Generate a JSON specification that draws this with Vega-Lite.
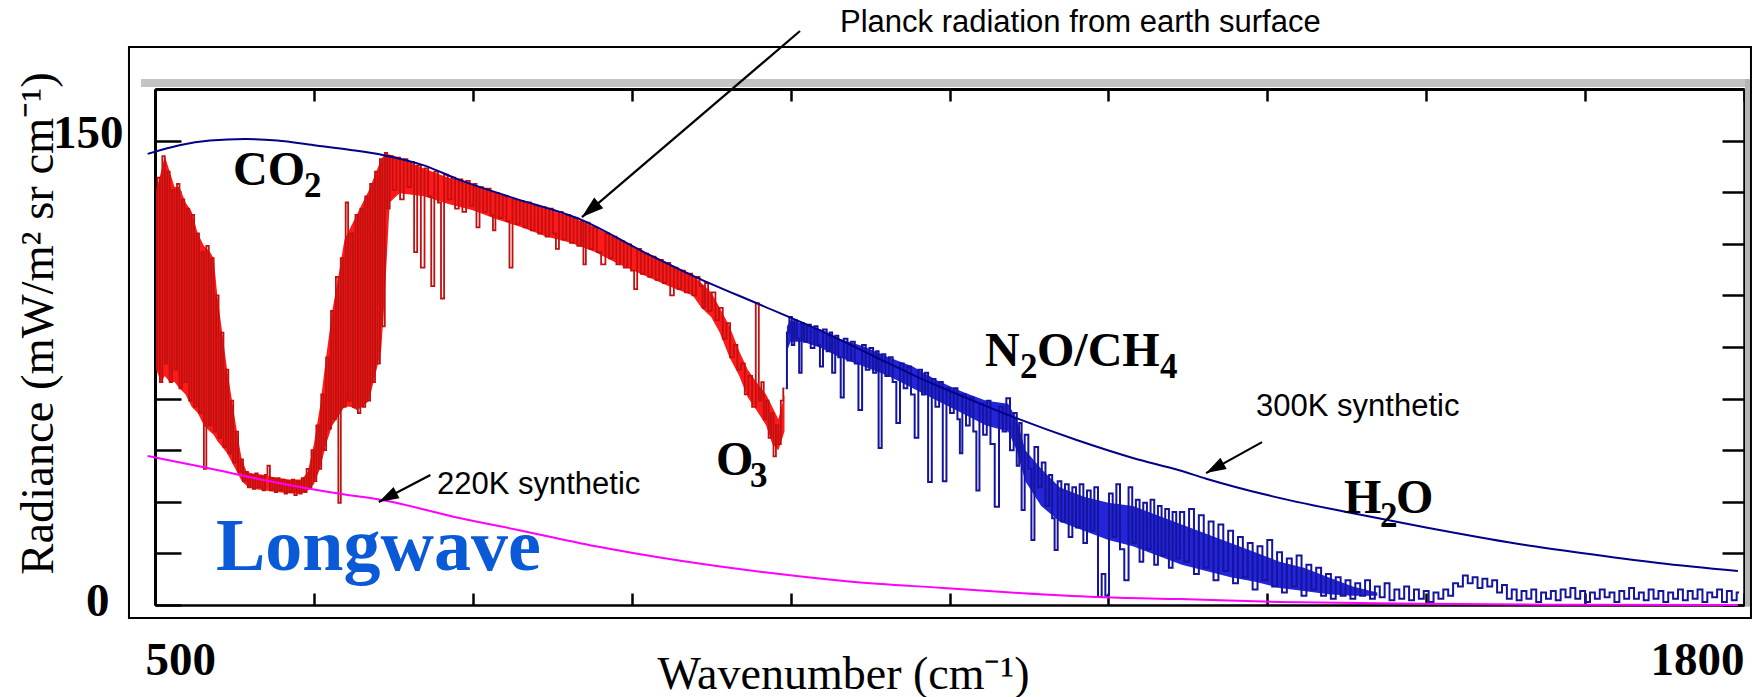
{
  "$schema": "https://vega.github.io/schema/vega-lite/v6.json",
  "width": 1589,
  "height": 516,
  "autosize": {"type": "none"},
  "padding": {"left": 155, "top": 89, "right": 18, "bottom": 92},
  "background": "white",
  "config": {
    "view": {"stroke": null},
    "axis": {"grid": false, "zindex": 1, "labelFont": "Liberation Serif", "titleFont": "Liberation Serif", "labelColor": "black", "titleColor": "black"}
  },
  "datasets": {
    "redband": [
      {"w":501,"hi":134,"lo":76},{"w":505,"hi":140,"lo":72},{"w":508,"hi":145,"lo":74},{"w":512,"hi":140,"lo":72},{"w":516,"hi":135,"lo":72},{"w":520,"hi":135,"lo":70},{"w":525,"hi":130,"lo":68},{"w":530,"hi":127,"lo":64},{"w":535,"hi":120,"lo":62},{"w":540,"hi":116,"lo":58},{"w":545,"hi":114,"lo":56},{"w":548,"hi":112,"lo":55},{"w":551,"hi":100,"lo":53},{"w":555,"hi":88,"lo":51},{"w":559,"hi":76,"lo":49},{"w":563,"hi":66,"lo":46},{"w":567,"hi":56,"lo":43},{"w":571,"hi":47,"lo":40},{"w":575,"hi":43,"lo":38.5},{"w":580,"hi":42.5,"lo":37.5},{"w":590,"hi":42,"lo":37},{"w":600,"hi":41,"lo":36.5},{"w":610,"hi":40.5,"lo":36},{"w":620,"hi":40.5,"lo":36},{"w":625,"hi":43,"lo":37},{"w":630,"hi":52,"lo":39},{"w":635,"hi":64,"lo":44},{"w":640,"hi":80,"lo":52},{"w":645,"hi":95,"lo":58},{"w":650,"hi":106,"lo":61},{"w":655,"hi":118,"lo":64},{"w":660,"hi":122,"lo":64},{"w":665,"hi":126,"lo":63},{"w":670,"hi":130,"lo":64},{"w":675,"hi":134,"lo":66},{"w":680,"hi":139,"lo":74},{"w":685,"hi":144,"lo":82},{"w":688,"hi":145.5,"lo":100},{"w":692,"hi":145.5,"lo":130},{"w":700,"hi":144.5,"lo":133},{"w":720,"hi":141,"lo":132},{"w":740,"hi":138,"lo":129.5},{"w":760,"hi":136,"lo":127.5},{"w":780,"hi":133,"lo":124.5},{"w":800,"hi":130.5,"lo":122},{"w":820,"hi":128,"lo":119},{"w":840,"hi":125.5,"lo":117},{"w":860,"hi":122,"lo":114},{"w":880,"hi":118,"lo":110},{"w":900,"hi":114,"lo":106.5},{"w":920,"hi":110.5,"lo":103},{"w":940,"hi":106.5,"lo":100},{"w":947,"hi":104,"lo":96},{"w":955,"hi":101,"lo":93},{"w":962,"hi":96,"lo":88},{"w":970,"hi":90,"lo":80},{"w":978,"hi":82,"lo":74},{"w":985,"hi":76,"lo":67},{"w":992,"hi":72,"lo":63},{"w":1000,"hi":68,"lo":58},{"w":1005,"hi":64,"lo":52},{"w":1010,"hi":60,"lo":50},{"w":1015,"hi":68,"lo":56}
    ],
    "red": [
      {"w":501,"r":76},{"w":503,"r":138},{"w":505,"r":72},{"w":507,"r":145},{"w":509,"r":78},{"w":511,"r":140},{"w":513,"r":72},{"w":515,"r":134},{"w":517,"r":76},{"w":519,"r":136},{"w":521,"r":70},{"w":523,"r":131},{"w":525,"r":72},{"w":527,"r":128},{"w":529,"r":66},{"w":531,"r":126},{"w":533,"r":64},{"w":535,"r":120},{"w":537,"r":62},{"w":539,"r":114},{"w":541,"r":44},{"w":543,"r":116},{"w":545,"r":58},{"w":547,"r":112},{"w":549,"r":56},{"w":551,"r":100},{"w":553,"r":54},{"w":555,"r":88},{"w":557,"r":51},{"w":559,"r":76},{"w":561,"r":49},{"w":563,"r":66},{"w":565,"r":46},{"w":567,"r":56},{"w":569,"r":43},{"w":571,"r":47},{"w":573,"r":40},
      {"w":575,"r":43},{"w":577,"r":38},{"w":579,"r":42},{"w":581,"r":37.5},{"w":583,"r":42.5},{"w":585,"r":38},{"w":587,"r":41.5},{"w":589,"r":37},{"w":591,"r":42},{"w":593,"r":45},{"w":595,"r":37},{"w":597,"r":41},{"w":599,"r":36.5},{"w":601,"r":41},{"w":603,"r":37},{"w":605,"r":40.5},{"w":607,"r":36},{"w":609,"r":40},{"w":611,"r":36.5},{"w":613,"r":40.5},{"w":615,"r":35.5},{"w":617,"r":40},{"w":619,"r":36},{"w":621,"r":41},{"w":623,"r":36.5},
      {"w":625,"r":44},{"w":627,"r":38},{"w":629,"r":50},{"w":631,"r":40},{"w":633,"r":58},{"w":635,"r":44},{"w":637,"r":68},{"w":639,"r":50},{"w":641,"r":80},{"w":643,"r":57},{"w":645,"r":95},{"w":647,"r":60},{"w":649,"r":106},{"w":651,"r":33},{"w":653,"r":112},{"w":655,"r":64},{"w":657,"r":130},{"w":659,"r":66},{"w":661,"r":120},{"w":663,"r":64},{"w":665,"r":126},{"w":667,"r":62},{"w":669,"r":128},{"w":671,"r":64},{"w":673,"r":132},{"w":675,"r":66},{"w":677,"r":136},{"w":679,"r":72},{"w":681,"r":140},{"w":683,"r":78},{"w":685,"r":144},{"w":687,"r":90},{"w":689,"r":146},{"w":691,"r":128},
      {"w":693,"r":145},{"w":696,"r":134},{"w":699,"r":144.5},{"w":702,"r":131},{"w":705,"r":144},{"w":708,"r":135},{"w":711,"r":143},{"w":713,"r":114},{"w":716,"r":142},{"w":719,"r":109},{"w":722,"r":141},{"w":725,"r":132},{"w":727,"r":103},{"w":730,"r":140},{"w":733,"r":130},{"w":735,"r":99},{"w":738,"r":139},{"w":741,"r":131},{"w":744,"r":138},{"w":747,"r":128},{"w":750,"r":137.5},{"w":753,"r":127},{"w":756,"r":137},{"w":759,"r":129},{"w":762,"r":136},{"w":764,"r":122},{"w":767,"r":135},{"w":770,"r":127},{"w":773,"r":134.5},{"w":776,"r":126},{"w":777,"r":121},{"w":780,"r":133},{"w":783,"r":125},{"w":786,"r":132},{"w":789,"r":124},{"w":791,"r":109},{"w":794,"r":131},{"w":797,"r":123},{"w":800,"r":130.5},{"w":803,"r":122},{"w":806,"r":130},{"w":809,"r":121},{"w":812,"r":129},{"w":815,"r":120},{"w":818,"r":128.5},{"w":821,"r":119},{"w":824,"r":128},{"w":827,"r":120},{"w":829,"r":115},{"w":832,"r":127},{"w":835,"r":118},{"w":838,"r":126},{"w":841,"r":117},{"w":844,"r":125},{"w":847,"r":116},{"w":850,"r":124},{"w":851,"r":110},{"w":854,"r":123.5},{"w":857,"r":115},{"w":860,"r":122},{"w":863,"r":114},{"w":867,"r":110},{"w":870,"r":120},{"w":873,"r":112},{"w":876,"r":119},{"w":879,"r":110},{"w":882,"r":117.5},{"w":885,"r":109},{"w":888,"r":116.5},{"w":891,"r":108},{"w":893,"r":102},{"w":896,"r":115},{"w":899,"r":107},{"w":902,"r":113.5},{"w":905,"r":106},{"w":908,"r":112.5},{"w":911,"r":105},{"w":914,"r":111.5},{"w":917,"r":104},{"w":920,"r":110.5},{"w":923,"r":100},{"w":926,"r":109},{"w":929,"r":102},{"w":932,"r":108},{"w":935,"r":101},{"w":938,"r":107},{"w":941,"r":100},{"w":944,"r":106},
      {"w":947,"r":103},{"w":949,"r":96},{"w":951,"r":104},{"w":954,"r":95},{"w":957,"r":101},{"w":960,"r":92},{"w":963,"r":96},{"w":966,"r":86},{"w":969,"r":91},{"w":972,"r":80},{"w":975,"r":84},{"w":978,"r":76},{"w":981,"r":78},{"w":984,"r":68},{"w":987,"r":74},{"w":990,"r":64},{"w":993,"r":97.5},{"w":995,"r":66},{"w":997,"r":72},{"w":999,"r":60},{"w":1001,"r":66},{"w":1003,"r":54},{"w":1005,"r":62},{"w":1007,"r":48},{"w":1009,"r":58},{"w":1011,"r":52},{"w":1013,"r":66},{"w":1015,"r":70}
    ],
    "blueband": [
      {"w":1017,"hi":90,"lo":82},{"w":1020,"hi":92,"lo":85},{"w":1030,"hi":91,"lo":85},{"w":1045,"hi":89,"lo":83},{"w":1060,"hi":86,"lo":80},{"w":1080,"hi":83.5,"lo":77},{"w":1100,"hi":80,"lo":74},{"w":1120,"hi":77,"lo":70},{"w":1140,"hi":72.5,"lo":66},{"w":1160,"hi":69,"lo":62},{"w":1180,"hi":66,"lo":58},{"w":1198,"hi":65,"lo":56},{"w":1205,"hi":60,"lo":50},{"w":1212,"hi":50,"lo":40},{"w":1225,"hi":44,"lo":32},{"w":1240,"hi":38,"lo":27},{"w":1260,"hi":35,"lo":24},{"w":1280,"hi":33,"lo":21},{"w":1300,"hi":32,"lo":19},{"w":1320,"hi":29,"lo":16},{"w":1340,"hi":26,"lo":13},{"w":1360,"hi":23,"lo":11},{"w":1380,"hi":20,"lo":9},{"w":1400,"hi":17,"lo":7.5},{"w":1420,"hi":14,"lo":5.5},{"w":1440,"hi":12,"lo":4.5},{"w":1460,"hi":9,"lo":3.5},{"w":1480,"hi":6,"lo":3},{"w":1500,"hi":4,"lo":3}
    ],
    "blue": [
      {"w":1016,"r":70},{"w":1018,"r":88},{"w":1020,"r":93},{"w":1022,"r":84},{"w":1024,"r":92},{"w":1026,"r":86},{"w":1028,"r":75},{"w":1030,"r":91},{"w":1032,"r":85},{"w":1035,"r":90.5},{"w":1038,"r":83},{"w":1041,"r":90},{"w":1043,"r":84},{"w":1045,"r":77},{"w":1048,"r":89},{"w":1051,"r":82},{"w":1053,"r":88},{"w":1055,"r":75},{"w":1058,"r":87},{"w":1060,"r":80},{"w":1062,"r":67},{"w":1065,"r":86},{"w":1068,"r":79},{"w":1071,"r":85},{"w":1074,"r":78},{"w":1077,"r":63},{"w":1080,"r":84},{"w":1083,"r":76},{"w":1086,"r":83},{"w":1089,"r":75},{"w":1091,"r":82},{"w":1093,"r":50.7},{"w":1096,"r":81},{"w":1099,"r":74},{"w":1102,"r":80},{"w":1105,"r":72},{"w":1108,"r":58.8},{"w":1111,"r":78},{"w":1114,"r":70},{"w":1117,"r":77},{"w":1120,"r":68},{"w":1123,"r":54},{"w":1126,"r":76},{"w":1129,"r":68},{"w":1131,"r":75},{"w":1134,"r":39.7},{"w":1137,"r":73},{"w":1140,"r":64},{"w":1143,"r":72},{"w":1146,"r":40},{"w":1149,"r":70},{"w":1152,"r":62},{"w":1155,"r":70},{"w":1158,"r":60},{"w":1159,"r":49},{"w":1162,"r":68},{"w":1165,"r":58},{"w":1168,"r":67},{"w":1171,"r":56},{"w":1173,"r":37},{"w":1176,"r":65},{"w":1179,"r":55},{"w":1182,"r":66},{"w":1185,"r":52},{"w":1189,"r":31.7},{"w":1192,"r":64},{"w":1195,"r":56},{"w":1198,"r":66.8},{"w":1201,"r":50},{"w":1204,"r":62},{"w":1206,"r":45},{"w":1208,"r":58.8},{"w":1210,"r":30.7},{"w":1213,"r":55},{"w":1216,"r":44},{"w":1218,"r":21},{"w":1221,"r":51},{"w":1224,"r":38},{"w":1227,"r":46},{"w":1230,"r":32},{"w":1233,"r":42},{"w":1235,"r":28},{"w":1237,"r":17.8},{"w":1240,"r":40},{"w":1243,"r":27},{"w":1246,"r":39},{"w":1249,"r":22},{"w":1252,"r":38},{"w":1255,"r":25},{"w":1258,"r":39},{"w":1261,"r":20},{"w":1264,"r":37},{"w":1267,"r":24},{"w":1270,"r":38},{"w":1273,"r":2.6},{"w":1276,"r":10},{"w":1279,"r":3},{"w":1282,"r":36},{"w":1285,"r":22},{"w":1288,"r":39},{"w":1291,"r":18},{"w":1295,"r":8},{"w":1298,"r":38},{"w":1301,"r":20},{"w":1304,"r":34},{"w":1307,"r":14},{"w":1310,"r":33},{"w":1313,"r":18},{"w":1316,"r":34},{"w":1319,"r":13},{"w":1322,"r":32},{"w":1325,"r":16},{"w":1328,"r":31},{"w":1331,"r":12},{"w":1334,"r":30},{"w":1337,"r":15},{"w":1340,"r":30},
      {"w":1344,"r":14},{"w":1348,"r":31},{"w":1352,"r":10},{"w":1356,"r":29},{"w":1360,"r":12},{"w":1364,"r":27},{"w":1368,"r":8},{"w":1372,"r":26},{"w":1376,"r":11},{"w":1380,"r":24},{"w":1384,"r":7},{"w":1388,"r":22},{"w":1392,"r":9},{"w":1396,"r":20},{"w":1400,"r":5},{"w":1404,"r":19},{"w":1408,"r":8},{"w":1412,"r":21},{"w":1416,"r":6},{"w":1420,"r":17},{"w":1424,"r":4},{"w":1428,"r":15},{"w":1432,"r":6},{"w":1436,"r":16},{"w":1440,"r":3},{"w":1444,"r":13},{"w":1448,"r":5},{"w":1452,"r":12},{"w":1456,"r":3},{"w":1460,"r":10},{"w":1464,"r":2},{"w":1468,"r":9},{"w":1472,"r":3},{"w":1476,"r":8},{"w":1480,"r":2},{"w":1484,"r":7},{"w":1488,"r":3},{"w":1492,"r":8},{"w":1496,"r":2},{"w":1500,"r":6},{"w":1504,"r":2.5},{"w":1508,"r":7},{"w":1512,"r":1.5},{"w":1516,"r":5},{"w":1520,"r":2},{"w":1524,"r":6},{"w":1528,"r":1.5},{"w":1532,"r":5},{"w":1536,"r":2},{"w":1540,"r":4.5},{"w":1544,"r":1},{"w":1548,"r":4},{"w":1552,"r":2},{"w":1556,"r":5},{"w":1560,"r":3},{"w":1564,"r":7},{"w":1568,"r":6},{"w":1572,"r":9.5},{"w":1576,"r":7},{"w":1580,"r":9},{"w":1584,"r":5.5},{"w":1588,"r":8.5},{"w":1592,"r":6},{"w":1596,"r":8},{"w":1600,"r":4},{"w":1604,"r":6.5},{"w":1608,"r":2},{"w":1612,"r":5},{"w":1616,"r":1.5},{"w":1620,"r":4.5},{"w":1624,"r":2},{"w":1628,"r":5},{"w":1632,"r":1},{"w":1636,"r":4},{"w":1640,"r":2},{"w":1644,"r":4.5},{"w":1648,"r":1.5},{"w":1652,"r":5},{"w":1656,"r":2.5},{"w":1660,"r":5.5},{"w":1664,"r":2},{"w":1668,"r":4.5},{"w":1672,"r":1},{"w":1676,"r":4},{"w":1680,"r":2},{"w":1684,"r":5},{"w":1688,"r":2.5},{"w":1692,"r":4},{"w":1696,"r":1},{"w":1700,"r":4.5},{"w":1704,"r":2},{"w":1708,"r":5.5},{"w":1712,"r":2},{"w":1716,"r":4},{"w":1720,"r":1.5},{"w":1724,"r":5},{"w":1728,"r":2},{"w":1732,"r":4.5},{"w":1736,"r":1},{"w":1740,"r":4},{"w":1744,"r":2},{"w":1748,"r":5},{"w":1752,"r":1.5},{"w":1756,"r":4.5},{"w":1760,"r":2},{"w":1764,"r":5},{"w":1768,"r":1},{"w":1772,"r":4},{"w":1776,"r":2.5},{"w":1780,"r":5},{"w":1784,"r":1},{"w":1788,"r":4.5},{"w":1792,"r":1.5},{"w":1796,"r":4}
    ],
    "k300": [
      {"w":494,"r":145.7},{"w":520,"r":148.5},{"w":545,"r":150},{"w":574,"r":150.5},{"w":600,"r":150},{"w":630,"r":148.5},{"w":660,"r":147},{"w":687,"r":145.3},{"w":720,"r":142},{"w":749,"r":137.3},{"w":793,"r":131.5},{"w":849,"r":124.4},{"w":900,"r":114},{"w":942,"r":106},{"w":995,"r":97},{"w":1048,"r":88},{"w":1090,"r":80},{"w":1129,"r":72.7},{"w":1160,"r":67.5},{"w":1192,"r":62.3},{"w":1254,"r":53.3},{"w":1300,"r":47.5},{"w":1338,"r":43.5},{"w":1360,"r":40.8},{"w":1410,"r":35.5},{"w":1479,"r":29.7},{"w":1542,"r":24.9},{"w":1621,"r":19.4},{"w":1667,"r":16.8},{"w":1730,"r":13.6},{"w":1795,"r":11}
    ],
    "k220": [
      {"w":494,"r":48.1},{"w":540,"r":44.5},{"w":600,"r":39.5},{"w":650,"r":36},{"w":686,"r":33.9},{"w":750,"r":28},{"w":800,"r":24},{"w":864,"r":18.7},{"w":926,"r":14.5},{"w":1004,"r":10.3},{"w":1070,"r":7.5},{"w":1145,"r":5.5},{"w":1210,"r":3.8},{"w":1270,"r":2.6},{"w":1339,"r":1.9},{"w":1420,"r":1},{"w":1541,"r":0.4},{"w":1650,"r":0.1},{"w":1795,"r":0}
    ],
    "notes": [
      {"t":"CO","w":563.8,"r":135.7,"k":"big"},
      {"t":"2","w":621.9,"r":131.8,"k":"sub"},
      {"t":"O","w":959,"r":42,"k":"big"},
      {"t":"3","w":986.8,"r":38.1,"k":"sub"},
      {"t":"N","w":1179,"r":77.2,"k":"big"},
      {"t":"2","w":1207.7,"r":73.3,"k":"sub"},
      {"t":"O/CH","w":1221.6,"r":77.2,"k":"big"},
      {"t":"4","w":1322.2,"r":73.3,"k":"sub"},
      {"t":"H","w":1472.7,"r":29.7,"k":"big"},
      {"t":"2","w":1502.2,"r":25.2,"k":"sub"},
      {"t":"O","w":1515.3,"r":29.7,"k":"big"},
      {"t":"Longwave","w":549.9,"r":11.3,"k":"lw"},
      {"t":"Planck radiation from earth surface","w":1060.4,"r":185.1,"k":"note"},
      {"t":"300K synthetic","w":1400.8,"r":61,"k":"note"},
      {"t":"220K synthetic","w":730.7,"r":35.9,"k":"note"}
    ],
    "arrows": [
      {"id":"p","w":1027.7,"r":185.4,"w2":849.3,"r2":125.3},
      {"id":"k300","w":1405.7,"r":52.6,"w2":1359.9,"r2":42.6},
      {"id":"k220","w":725.3,"r":42,"w2":683.1,"r2":33.3}
    ]
  },
  "layer": [
    {
      "data": {"values": [{}]},
      "mark": {"type": "rect", "fill": null, "stroke": "black", "strokeWidth": 2},
      "encoding": {
        "x": {"datum": 478.7, "type": "quantitative", "scale": {"domain": [500, 1800], "nice": false, "zero": false}, "axis": null},
        "x2": {"datum": 1805.7},
        "y": {"datum": 180.2, "type": "quantitative", "scale": {"domain": [0, 166.667], "nice": false, "zero": false}, "axis": null},
        "y2": {"datum": -4.2}
      }
    },
    {
      "data": {"values": [{}]},
      "mark": {"type": "rect", "fill": "#c4c4c4", "stroke": null},
      "encoding": {
        "x": {"datum": 488.5, "type": "quantitative", "axis": null},
        "x2": {"datum": 1804.1},
        "y": {"datum": 169.9, "type": "quantitative", "axis": null},
        "y2": {"datum": 167.3}
      }
    },
    {
      "data": {"values": [{}]},
      "mark": {"type": "rect", "fill": "#b4b4b4", "stroke": null},
      "encoding": {
        "x": {"datum": 1800.8, "type": "quantitative", "axis": null},
        "x2": {"datum": 1804.9},
        "y": {"datum": 169.9, "type": "quantitative", "axis": null},
        "y2": {"datum": -0.6}
      }
    },
    {
      "data": {"name": "redband"},
      "mark": {"type": "area", "color": "#ff1a1a", "opacity": 1},
      "encoding": {
        "x": {"field": "w", "type": "quantitative", "axis": null},
        "y": {"field": "hi", "type": "quantitative", "axis": null},
        "y2": {"field": "lo"}
      }
    },
    {
      "data": {"name": "blueband"},
      "mark": {"type": "area", "color": "#2424d8", "opacity": 1},
      "encoding": {
        "x": {"field": "w", "type": "quantitative", "axis": null},
        "y": {"field": "hi", "type": "quantitative", "axis": null},
        "y2": {"field": "lo"}
      }
    },
    {
      "data": {"name": "red"},
      "mark": {"type": "line", "interpolate": "step", "color": "#c01010", "strokeWidth": 1.8},
      "encoding": {
        "x": {"field": "w", "type": "quantitative", "scale": {"domain": [500, 1800], "nice": false, "zero": false},
          "axis": {"orient": "bottom", "values": [500,630,760,890,1020,1150,1280,1410,1540,1670,1800], "tickSize": -12, "tickWidth": 2.5, "tickColor": "black", "domainColor": "black", "domainWidth": 2.5, "labels": false,
            "title": "Wavenumber (cm⁻¹)", "titleFontSize": 46, "titleFontWeight": "normal", "titleX": 688, "titleY": 83, "titleAlign": "center", "titleBaseline": "alphabetic"}},
        "y": {"field": "r", "type": "quantitative", "scale": {"domain": [0, 166.667], "nice": false, "zero": false},
          "axis": {"orient": "left", "values": [0,16.667,33.333,50,66.667,83.333,100,116.667,133.333,150,166.667], "tickSize": -26, "tickWidth": 2.5, "tickColor": "black", "domainColor": "black", "domainWidth": 3, "labels": false,
            "title": "Radiance (mW/m² sr cm⁻¹)", "titleFontSize": 46.5, "titleFontWeight": "normal", "titleX": -103, "titleY": 234, "titleAngle": -90, "titleAlign": "center", "titleBaseline": "alphabetic"}}
      }
    },
    {
      "data": {"name": "blue"},
      "mark": {"type": "line", "interpolate": "step", "color": "#14149c", "strokeWidth": 2},
      "encoding": {
        "x": {"field": "w", "type": "quantitative", "scale": {"domain": [500, 1800], "nice": false, "zero": false},
          "axis": {"orient": "top", "values": [500,630,760,890,1020,1150,1280,1410,1540,1670,1800], "tickSize": -12, "tickWidth": 2.5, "tickColor": "black", "domainColor": "black", "domainWidth": 3, "labels": false, "title": null}},
        "y": {"field": "r", "type": "quantitative", "scale": {"domain": [0, 166.667], "nice": false, "zero": false},
          "axis": {"orient": "right", "values": [0,16.667,33.333,50,66.667,83.333,100,116.667,133.333,150,166.667], "tickSize": -22, "tickWidth": 2.5, "tickColor": "black", "domainColor": "black", "domainWidth": 2.5, "labels": false, "title": null}}
      }
    },
    {
      "data": {"name": "k300"},
      "mark": {"type": "line", "interpolate": "monotone", "color": "#000088", "strokeWidth": 2},
      "encoding": {
        "x": {"field": "w", "type": "quantitative", "scale": {"domain": [500, 1800], "nice": false, "zero": false},
          "axis": {"orient": "bottom", "values": [500, 1800], "format": "d", "ticks": false, "tickSize": 0, "domain": false, "labelFlush": true, "labelOverlap": false, "labelBound": false,
            "labelFontSize": 47, "labelFontWeight": "bold", "labelBaseline": "alphabetic", "labelPadding": 69,
            "labelOffset": {"condition": {"test": "datum.value == 500", "value": -10}, "value": 0}, "title": null}},
        "y": {"field": "r", "type": "quantitative", "scale": {"domain": [0, 166.667], "nice": false, "zero": false},
          "axis": {"orient": "left", "values": [0, 150], "format": "d", "ticks": false, "tickSize": 0, "domain": false, "labelFlush": false, "labelOverlap": false, "labelBound": false,
            "labelFontSize": 47, "labelFontWeight": "bold", "labelAlign": "right", "labelBaseline": "alphabetic",
            "labelPadding": {"condition": {"test": "datum.value == 0", "value": 46}, "value": 32},
            "labelOffset": {"condition": {"test": "datum.value == 0", "value": 10}, "value": 7}, "title": null}}
      }
    },
    {
      "data": {"name": "k220"},
      "mark": {"type": "line", "interpolate": "monotone", "color": "#ff00ff", "strokeWidth": 2},
      "encoding": {
        "x": {"field": "w", "type": "quantitative", "axis": null},
        "y": {"field": "r", "type": "quantitative", "axis": null}
      }
    },
    {
      "data": {"name": "notes"},
      "transform": [{"filter": "datum.k == 'big'"}],
      "mark": {"type": "text", "align": "left", "baseline": "alphabetic", "font": "Liberation Serif", "fontWeight": "bold", "fontSize": 48, "color": "black"},
      "encoding": {
        "x": {"field": "w", "type": "quantitative", "axis": null},
        "y": {"field": "r", "type": "quantitative", "axis": null},
        "text": {"field": "t"}
      }
    },
    {
      "data": {"name": "notes"},
      "transform": [{"filter": "datum.k == 'sub'"}],
      "mark": {"type": "text", "align": "left", "baseline": "alphabetic", "font": "Liberation Serif", "fontWeight": "bold", "fontSize": 35, "color": "black"},
      "encoding": {
        "x": {"field": "w", "type": "quantitative", "axis": null},
        "y": {"field": "r", "type": "quantitative", "axis": null},
        "text": {"field": "t"}
      }
    },
    {
      "data": {"name": "notes"},
      "transform": [{"filter": "datum.k == 'lw'"}],
      "mark": {"type": "text", "align": "left", "baseline": "alphabetic", "font": "Liberation Serif", "fontWeight": "bold", "fontSize": 74, "color": "#0a5ad8"},
      "encoding": {
        "x": {"field": "w", "type": "quantitative", "axis": null},
        "y": {"field": "r", "type": "quantitative", "axis": null},
        "text": {"field": "t"}
      }
    },
    {
      "data": {"name": "notes"},
      "transform": [{"filter": "datum.k == 'note'"}],
      "mark": {"type": "text", "align": "left", "baseline": "alphabetic", "font": "Liberation Sans", "fontSize": 31, "color": "black"},
      "encoding": {
        "x": {"field": "w", "type": "quantitative", "axis": null},
        "y": {"field": "r", "type": "quantitative", "axis": null},
        "text": {"field": "t"}
      }
    },
    {
      "data": {"name": "arrows"},
      "mark": {"type": "rule", "color": "black", "strokeWidth": 2.2},
      "encoding": {
        "x": {"field": "w", "type": "quantitative", "axis": null},
        "y": {"field": "r", "type": "quantitative", "axis": null},
        "x2": {"field": "w2"},
        "y2": {"field": "r2"}
      }
    },
    {
      "data": {"name": "arrows"},
      "transform": [{"filter": "datum.id == 'p'"}],
      "mark": {"type": "point", "shape": "M0,0L0.32,1L-0.32,1Z", "filled": true, "color": "black", "opacity": 1, "size": 1936, "angle": 229.7, "strokeWidth": 0},
      "encoding": {
        "x": {"field": "w2", "type": "quantitative", "axis": null},
        "y": {"field": "r2", "type": "quantitative", "axis": null}
      }
    },
    {
      "data": {"name": "arrows"},
      "transform": [{"filter": "datum.id == 'k300'"}],
      "mark": {"type": "point", "shape": "M0,0L0.32,1L-0.32,1Z", "filled": true, "color": "black", "opacity": 1, "size": 1600, "angle": 241, "strokeWidth": 0},
      "encoding": {
        "x": {"field": "w2", "type": "quantitative", "axis": null},
        "y": {"field": "r2", "type": "quantitative", "axis": null}
      }
    },
    {
      "data": {"name": "arrows"},
      "transform": [{"filter": "datum.id == 'k220'"}],
      "mark": {"type": "point", "shape": "M0,0L0.32,1L-0.32,1Z", "filled": true, "color": "black", "opacity": 1, "size": 1600, "angle": 242.3, "strokeWidth": 0},
      "encoding": {
        "x": {"field": "w2", "type": "quantitative", "axis": null},
        "y": {"field": "r2", "type": "quantitative", "axis": null}
      }
    }
  ],
  "resolve": {"axis": {"x": "independent", "y": "independent"}}
}
